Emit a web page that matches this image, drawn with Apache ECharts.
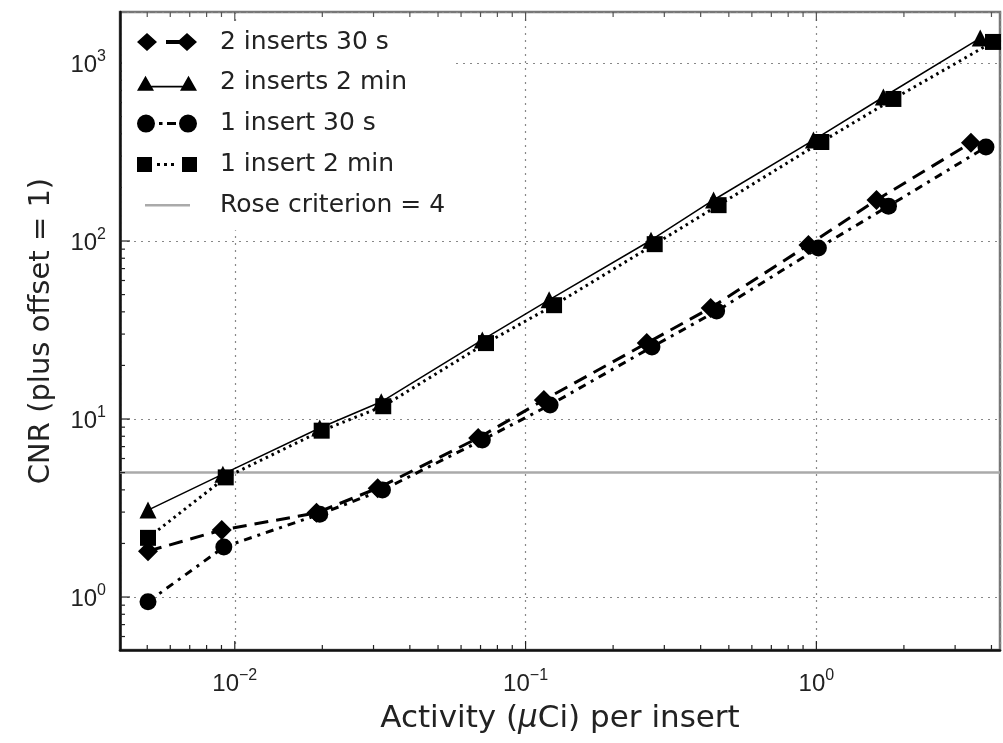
<!DOCTYPE html>
<html>
<head>
<meta charset="utf-8">
<script src="https://cdn.jsdelivr.net/npm/echarts@6/dist/echarts.min.js"></script>
<style>
  html, body { margin: 0; padding: 0; background: #fff; }
  #chart { width: 1003px; height: 743px; }
</style>
</head>
<body>
<div id="chart"></div>
<script>
// axis limits (log axes)
const X_MIN = 0.00403
const X_MAX = 4.28
const Y_MIN = 0.504
const Y_MAX = 1934
const ROSE = 5 // Rose criterion 4, plus offset 1

// 2 inserts 30 s (diamonds, dashed)
const twoIns30sX = [0.00503, 0.00902, 0.0191, 0.0310, 0.0687, 0.1156, 0.261, 0.433, 0.939, 1.61, 3.40]
const twoIns30sY = [1.81, 2.38, 2.97, 4.09, 7.82, 12.8, 26.7, 42.1, 95, 170, 356]
// 2 inserts 2 min (triangles, solid)
const twoIns2mX = [0.00503, 0.0091, 0.0196, 0.0319, 0.0710, 0.1205, 0.270, 0.443, 0.977, 1.70, 3.66]
const twoIns2mY = [3.08, 4.9, 8.9, 12.5, 27.8, 46.7, 101, 170, 369, 644, 1381]
// 1 insert 30 s (circles, dash-dot)
const oneIns30sX = [0.00503, 0.00917, 0.0196, 0.0322, 0.0710, 0.1214, 0.272, 0.454, 1.016, 1.77, 3.83]
const oneIns30sY = [0.94, 1.91, 2.92, 3.99, 7.62, 12.0, 25.4, 40.4, 91.4, 157, 337]
// 1 insert 2 min (squares, dotted)
const oneIns2mX = [0.00503, 0.00931, 0.0199, 0.0324, 0.0731, 0.1253, 0.278, 0.461, 1.04, 1.84, 4.05]
const oneIns2mY = [2.15, 4.7, 8.6, 11.8, 26.7, 43.6, 96, 159, 360, 628, 1313]

// tick positions
const majorX = [0.01, 0.1, 1]
const minorX = [0.005, 0.006, 0.007, 0.008, 0.009,
  0.02, 0.03, 0.04, 0.05, 0.06, 0.07, 0.08, 0.09,
  0.2, 0.3, 0.4, 0.5, 0.6, 0.7, 0.8, 0.9,
  2, 3, 4]
const majorY = [1, 10, 100, 1000]
const minorY = [0.6, 0.7, 0.8, 0.9,
  2, 3, 4, 5, 6, 7, 8, 9,
  20, 30, 40, 50, 60, 70, 80, 90,
  200, 300, 400, 500, 600, 700, 800, 900]

const FONT = 'Liberation Sans, Arial, Helvetica, sans-serif'
const WIDE = 'DejaVu Sans, Liberation Sans, sans-serif'

// legend icons: marker - line - marker, drawn in a 60x18 box
const BOX = 'M0 0 M60 18 '
const ICON_DIAMOND = 'path://' + BOX + 'M0 9 L10 0 L20 9 L10 18 Z M29 7 L43 7 L43 11 L29 11 Z M40 9 L50 0 L60 9 L50 18 Z'
const ICON_TRIANGLE = 'path://' + BOX + 'M0 17 L8.5 2 L17 17 Z M8 12 L52 12 L52 13.6 L8 13.6 Z M43 17 L51.5 2 L60 17 Z'
const ICON_CIRCLE = 'path://' + BOX + 'M0 9 A9 9 0 1 1 18 9 A9 9 0 1 1 0 9 Z M22 7.5 L25.5 7.5 L25.5 10.5 L22 10.5 Z M30 7.5 L39 7.5 L39 10.5 L30 10.5 Z M42 9 A9 9 0 1 1 60 9 A9 9 0 1 1 42 9 Z'
const ICON_SQUARE = 'path://' + BOX + 'M0 1.5 L15 1.5 L15 16.5 L0 16.5 Z M20 7.5 L23 7.5 L23 10.5 L20 10.5 Z M27 7.5 L30 7.5 L30 10.5 L27 10.5 Z M34 7.5 L37 7.5 L37 10.5 L34 10.5 Z M45 1.5 L60 1.5 L60 16.5 L45 16.5 Z'
const ICON_ROSE = 'path://' + BOX + 'M8 7.8 L53 7.8 L53 10.4 L8 10.4 Z'

function zip(xs, ys) {
  return xs.map((x, i) => [x, ys[i]])
}

function powLabel(value) {
  const e = Math.log10(value)
  const r = Math.round(e)
  if (Math.abs(e - r) > 1e-6) return ''
  const exp = r < 0 ? '\u2212' + (-r) : String(r)
  return '{b|10}{s|' + exp + '}'
}

const powRich = {
  b: { fontSize: 24, fontFamily: FONT, color: '#222', lineHeight: 28, verticalAlign: 'bottom' },
  s: { fontSize: 16, fontFamily: FONT, color: '#222', lineHeight: 12, verticalAlign: 'top' }
}

// x ticks at bottom and top, drawn inward
function xTicks(params, api) {
  const cs = params.coordSys
  const x = api.coord([api.value(0), Y_MIN])[0]
  const len = api.value(1)
  const bottom = cs.y + cs.height
  return {
    type: 'group',
    children: [
      { type: 'line', shape: { x1: x, y1: bottom, x2: x, y2: bottom - len }, style: { stroke: '#222', lineWidth: 1.2 } },
      { type: 'line', shape: { x1: x, y1: cs.y, x2: x, y2: cs.y + len }, style: { stroke: '#555', lineWidth: 1.2 } }
    ]
  }
}

// y ticks on the left, drawn inward
function yTicks(params, api) {
  const cs = params.coordSys
  const y = api.coord([X_MIN, api.value(1)])[1]
  const len = api.value(0)
  return {
    type: 'line',
    shape: { x1: cs.x, y1: y, x2: cs.x + len, y2: y },
    style: { stroke: '#222', lineWidth: 1.2 }
  }
}

const chart = echarts.init(document.getElementById('chart'))

chart.setOption({
  animation: false,
  backgroundColor: '#fff',
  textStyle: { fontFamily: FONT },
  grid: {
    left: 120,
    right: 1,
    top: 12,
    bottom: 93,
    show: true,
    borderColor: '#777',
    borderWidth: 2.5,
    backgroundColor: 'transparent'
  },
  legend: {
    orient: 'vertical',
    left: 122,
    top: 22,
    padding: [7, 8, 12, 15],
    itemGap: 14.8,
    itemWidth: 60,
    itemHeight: 18,
    symbolKeepAspect: false,
    backgroundColor: '#fff',
    selectedMode: false,
    textStyle: { fontSize: 25, color: '#222', fontFamily: WIDE, lineHeight: 26, padding: [0, 0, 0, 18] },
    data: [
      { name: '2 inserts 30 s', icon: ICON_DIAMOND, itemStyle: { borderWidth: 0 } },
      { name: '2 inserts 2 min', icon: ICON_TRIANGLE, itemStyle: { borderWidth: 0 } },
      { name: '1 insert 30 s', icon: ICON_CIRCLE, itemStyle: { borderWidth: 0 } },
      { name: '1 insert 2 min', icon: ICON_SQUARE, itemStyle: { borderWidth: 0 } },
      { name: 'Rose criterion = 4', icon: ICON_ROSE, itemStyle: { borderWidth: 0 } }
    ]
  },
  xAxis: {
    type: 'log',
    logBase: 10,
    min: X_MIN,
    max: X_MAX,
    name: 'Activity ({i|\u03bc}Ci) per insert',
    nameLocation: 'middle',
    nameGap: 53,
    nameTextStyle: {
      fontSize: 31,
      color: '#222',
      fontFamily: WIDE,
      rich: { i: { fontSize: 31, fontStyle: 'italic', color: '#222', fontFamily: WIDE } }
    },
    axisLine: { lineStyle: { color: '#111', width: 2.5 } },
    axisTick: { show: false },
    axisLabel: { margin: 18, formatter: powLabel, rich: powRich },
    splitLine: { show: true, lineStyle: { color: '#888', type: [2, 5], width: 1.2 } }
  },
  yAxis: {
    type: 'log',
    logBase: 10,
    min: Y_MIN,
    max: Y_MAX,
    name: 'CNR (plus offset = 1)',
    nameLocation: 'middle',
    nameGap: 64,
    nameTextStyle: { fontSize: 29, color: '#222', fontFamily: WIDE },
    axisLine: { lineStyle: { color: '#111', width: 2.5 } },
    axisTick: { show: false },
    axisLabel: { margin: 14, formatter: powLabel, rich: powRich },
    splitLine: { show: true, lineStyle: { color: '#888', type: [2, 5], width: 1.2 } }
  },
  series: [
    {
      name: 'Rose criterion = 4',
      type: 'line',
      z: 1,
      symbol: 'none',
      data: [[X_MIN, ROSE], [X_MAX, ROSE]],
      lineStyle: { color: '#aaa', width: 2.5 },
      itemStyle: { color: '#aaa' }
    },
    {
      name: '2 inserts 30 s',
      type: 'line',
      z: 3,
      data: zip(twoIns30sX, twoIns30sY),
      symbol: 'diamond',
      symbolSize: 20,
      lineStyle: { color: '#000', width: 3, type: [14, 8] },
      itemStyle: { color: '#000' }
    },
    {
      name: '2 inserts 2 min',
      type: 'line',
      z: 3,
      data: zip(twoIns2mX, twoIns2mY),
      symbol: 'triangle',
      symbolSize: 17,
      lineStyle: { color: '#000', width: 1.5 },
      itemStyle: { color: '#000' }
    },
    {
      name: '1 insert 30 s',
      type: 'line',
      z: 3,
      data: zip(oneIns30sX, oneIns30sY),
      symbol: 'circle',
      symbolSize: 17,
      lineStyle: { color: '#000', width: 3, type: [8, 6, 3, 6] },
      itemStyle: { color: '#000' }
    },
    {
      name: '1 insert 2 min',
      type: 'line',
      z: 3,
      data: zip(oneIns2mX, oneIns2mY),
      symbol: 'rect',
      symbolSize: 16,
      lineStyle: { color: '#000', width: 3, type: [2.5, 4] },
      itemStyle: { color: '#000' }
    },
    {
      type: 'custom',
      silent: true,
      z: 2,
      renderItem: xTicks,
      data: majorX.map(v => [v, 9]).concat(minorX.map(v => [v, 5]))
    },
    {
      type: 'custom',
      silent: true,
      z: 2,
      renderItem: yTicks,
      data: majorY.map(v => [10, v]).concat(minorY.map(v => [5, v]))
    }
  ]
})
</script>
</body>
</html>
